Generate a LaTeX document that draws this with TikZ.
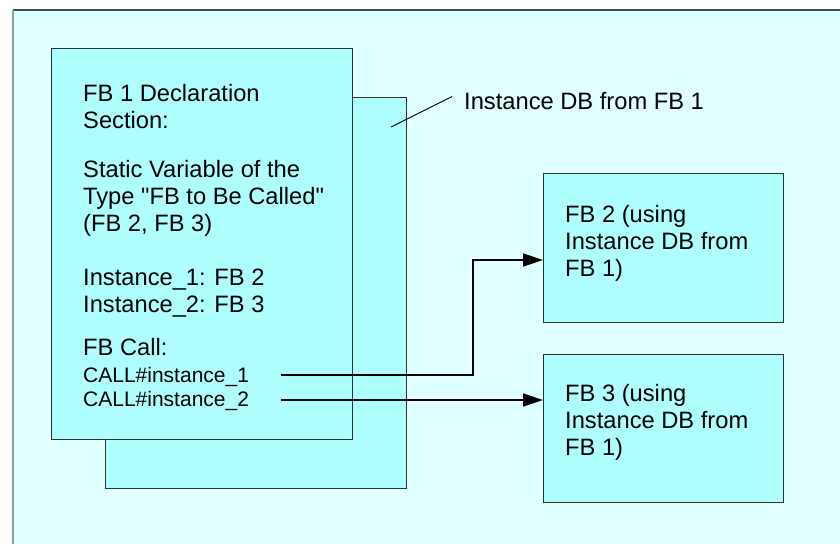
\documentclass[tikz,border=0pt]{standalone}
\usepackage{fontspec}
\setmainfont{Liberation Sans}
\usetikzlibrary{arrows.meta}
\definecolor{bgcyan}{HTML}{E0FFFF}
\definecolor{boxcyan}{HTML}{B0FFFF}
\definecolor{boxline}{HTML}{303030}
\tikzset{
  fbbox/.style={draw=boxline, line width=1pt, fill=boxcyan, inner sep=0pt, anchor=north west},
  maintext/.style={anchor=base west, inner sep=0pt, align=left, font=\fontsize{23.7}{27}\selectfont},
  calltext/.style={anchor=base west, inner sep=0pt, align=left, font=\fontsize{21}{24}\selectfont},
  callarrow/.style={draw=black, line width=1.5pt, -{Triangle[length=20pt,width=13pt]}},
  leader/.style={draw=black, line width=0.9pt}
}
\begin{document}
\begin{tikzpicture}[x=1pt,y=-1pt]
\useasboundingbox (0,0) rectangle (840,544);
% background panel
\fill[bgcyan] (13,10) rectangle (840,544);
\draw[draw={rgb,255:red,60;green,75;blue,75}, line width=1.2pt] (13,10) -- (840,10);
\draw[draw={rgb,255:red,140;green,155;blue,155}, line width=1.2pt] (13,10) -- (13,544);
% instance DB (back box)
\node[fbbox, minimum width=301pt, minimum height=391pt] (idbbox) at (105,97) {};
% FB1 (front box)
\node[fbbox, minimum width=301pt, minimum height=391pt] (fb1) at (51,48) {};
% FB2, FB3
\node[fbbox, minimum width=240pt, minimum height=149pt] (fb2) at (543,173) {};
\node[fbbox, minimum width=240pt, minimum height=148pt] (fb3) at (543,354) {};
% FB1 texts (anchored at the baseline of the last line)
\node[maintext] (t1) at (83,128) {FB 1 Declaration\\Section:};
\node[maintext] (t2) at (83,231) {Static Variable of the\\Type \textquotedbl FB to Be Called\textquotedbl\\(FB 2, FB 3)};
\node[maintext] (t3) at (83,312) {Instance\_1: FB 2\\Instance\_2: FB 3};
\node[maintext] (t4) at (83,355) {FB Call:};
\node[calltext] (call1) at (83,382) {CALL\#instance\_1};
\node[calltext] (call2) at (83,406) {CALL\#instance\_2};
% FB2/FB3 texts
\node[maintext] (t5) at (565,276) {FB 2 (using\\Instance DB from\\FB 1)};
\node[maintext] (t6) at (565,455) {FB 3 (using\\Instance DB from\\FB 1)};
% label
\node[maintext] (idb) at (464,109) {Instance DB from FB 1};
\coordinate (lp) at (391,127);
\draw[leader] (lp) -- ([shift={(-12pt,4pt)}]idb.west);
% connectors
\coordinate (s1) at (281,375);
\coordinate (k1) at (473,260);
\coordinate (s2) at (281,400);
\draw[callarrow] (s1) -| (k1) -- (k1 -| fb2.west);
\draw[callarrow] (s2) -- (s2 -| fb3.west);
\end{tikzpicture}
\end{document}
